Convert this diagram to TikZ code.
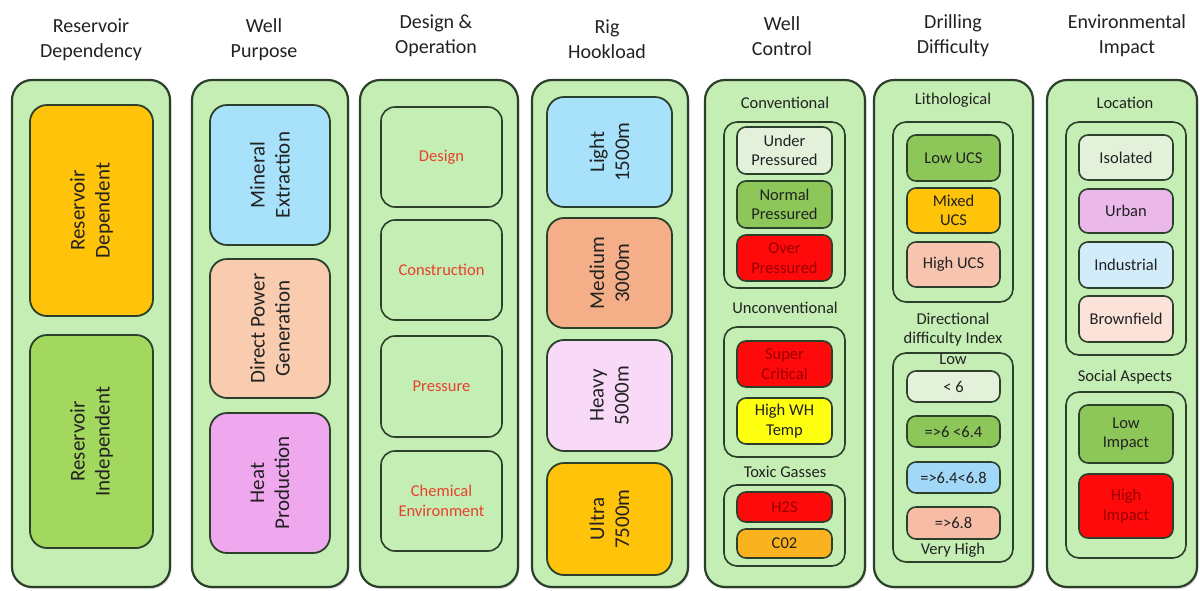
\documentclass[tikz,border=0pt]{standalone}
\usepackage{fontspec}
\setmainfont{Carlito}
\usetikzlibrary{shadows}
\definecolor{outg}{HTML}{C4EEB3}
\definecolor{bord}{HTML}{2B3F2B}
\definecolor{txt}{HTML}{222222}
\definecolor{redtxt}{HTML}{E8402E}
\definecolor{dred}{HTML}{9A0000}
\definecolor{gold}{HTML}{FFC30A}
\definecolor{grn}{HTML}{A2D85E}
\definecolor{midg}{HTML}{8DC75A}
\definecolor{paleg}{HTML}{E3F1DA}
\definecolor{ltblue}{HTML}{A8E2FA}
\definecolor{peach}{HTML}{F9CCAF}
\definecolor{violet}{HTML}{EFA8EE}
\definecolor{salmon}{HTML}{F5AF88}
\definecolor{ltpink}{HTML}{F9D9F8}
\definecolor{rd}{HTML}{FF0A0A}
\definecolor{yel}{HTML}{FFFF10}
\definecolor{orng}{HTML}{FAB31E}
\definecolor{hiucs}{HTML}{F7C4B0}
\definecolor{idxblue}{HTML}{A2D8F7}
\definecolor{idxsal}{HTML}{F7BCA6}
\definecolor{urban}{HTML}{EAB8E9}
\definecolor{indus}{HTML}{D2ECFA}
\definecolor{brown}{HTML}{FCE3DA}
\tikzset{
  outerbox/.style={draw=bord, line width=2.2pt, fill=outg, rounded corners=20pt,
    drop shadow={opacity=0.25, shadow xshift=1.5pt, shadow yshift=-2pt}},
  grpbox/.style={draw=bord, line width=1.6pt, rounded corners=13pt},
  itembox/.style={draw=bord, line width=1.6pt, rounded corners=9pt, text=txt,
    font=\fontsize{16.5}{19.5}\selectfont, align=center},
  bigbox/.style={draw=bord, line width=1.8pt, rounded corners=17pt, text=txt,
    font=\fontsize{21}{25}\selectfont, align=center, rotate=90},
  opbox/.style={draw=bord, line width=1.6pt, rounded corners=14pt, text=redtxt,
    font=\fontsize{16.5}{19.5}\selectfont, align=center},
  title/.style={text=txt, font=\fontsize{20}{25}\selectfont, align=center},
  lbl/.style={text=txt, font=\fontsize{16.5}{19.5}\selectfont, align=center},
}
% name, style, x1, y1, x2, y2, text
\newcommand\bx[7]{\node[#2, inner sep=0pt, minimum width={(#5-#3)*1pt}, minimum height={(#6-#4)*1pt}] (#1) at ({(#3+#5)/2},{(#4+#6)/2}) {#7};}
% rotated box: swap dimensions
\newcommand\rbx[7]{\node[#2, inner sep=0pt, minimum width={(#6-#4)*1pt}, minimum height={(#5-#3)*1pt}] (#1) at ({(#3+#5)/2},{(#4+#6)/2}) {#7};}
\begin{document}
\begin{tikzpicture}[x=1pt,y=-1pt]
\useasboundingbox (0,0) rectangle (1200,590);
\fill[white] (0,0) rectangle (1200,590);
% ---- outer columns
\bx{o1}{outerbox}{12}{80}{170}{587}{}
\bx{o2}{outerbox}{192}{80}{348}{587}{}
\bx{o3}{outerbox}{360}{80}{518}{587}{}
\bx{o4}{outerbox}{532}{80}{688}{587}{}
\bx{o5}{outerbox}{705}{80}{865}{587}{}
\bx{o6}{outerbox}{874}{80}{1033}{587}{}
\bx{o7}{outerbox}{1047}{80}{1197}{587}{}
% ---- titles
\node[title] (t1) at (91,39.5) {Reservoir\\Dependency};
\node[title] (t2) at (264,40) {Well\\Purpose};
\node[title] (t3) at (436,36) {Design \&\\Operation};
\node[title] (t4) at (607,39.5) {Rig\\Hookload};
\node[title] (t5) at (782,36) {Well\\Control};
\node[title] (t6) at (953,36) {Drilling\\Difficulty};
\node[title] (t7) at (1127,36) {Environmental\\Impact};
% ---- column 1
\rbx{rdep}{bigbox, fill=gold}{30}{105}{153}{316}{Reservoir\\Dependent}
\rbx{rind}{bigbox, fill=grn}{30}{335}{153}{548}{Reservoir\\Independent}
% ---- column 2
\rbx{mine}{bigbox, fill=ltblue}{210}{105}{330}{245}{Mineral\\Extraction}
\rbx{dpow}{bigbox, fill=peach}{210}{259}{330}{398}{Direct Power\\Generation}
\rbx{heat}{bigbox, fill=violet}{210}{413}{330}{553}{Heat\\Production}
% ---- column 3
\bx{des}{opbox}{381}{107}{502}{207}{Design}
\bx{con}{opbox}{381}{220}{502}{320}{Construction}
\bx{pre}{opbox}{381}{336}{502}{437}{Pressure}
\bx{che}{opbox}{381}{451}{502}{551}{Chemical\\Environment}
% ---- column 4
\rbx{lig}{bigbox, fill=ltblue}{547}{97}{672}{207}{Light\\1500m}
\rbx{med}{bigbox, fill=salmon}{547}{218}{672}{328}{Medium\\3000m}
\rbx{hea}{bigbox, fill=ltpink}{547}{340}{672}{451}{Heavy\\5000m}
\rbx{ult}{bigbox, fill=gold}{547}{463}{672}{575}{Ultra\\7500m}
% ---- column 5
\node[lbl] (lconv) at (785,103) {Conventional};
\bx{gconv}{grpbox}{724}{122}{845}{288}{}
\bx{under}{itembox, fill=paleg}{737}{127}{832}{174}{Under\\Pressured}
\bx{normal}{itembox, fill=midg}{737}{181}{832}{228}{Normal\\Pressured}
\bx{over}{itembox, fill=rd, text=dred}{737}{235}{832}{281}{Over\\Pressured}
\node[lbl] (lunc) at (785,308) {Unconventional};
\bx{gunc}{grpbox}{724}{327}{845}{457}{}
\bx{super}{itembox, fill=rd, text=dred}{737}{341}{832}{387}{Super\\Critical}
\bx{highwh}{itembox, fill=yel}{737}{398}{832}{444}{High WH\\Temp}
\node[lbl] (ltox) at (785,472) {Toxic Gasses};
\bx{gtox}{grpbox}{724}{485}{845}{566}{}
\bx{h2s}{itembox, fill=rd, text=dred}{737}{492}{832}{522}{H2S}
\bx{co2}{itembox, fill=orng}{737}{529}{832}{558}{C02}
% ---- column 6
\node[lbl] (llith) at (953,100) {Lithological};
\bx{glith}{grpbox}{893}{122}{1013}{302}{}
\bx{lowucs}{itembox, fill=midg}{907}{135}{1000}{181}{Low UCS}
\bx{mixucs}{itembox, fill=gold}{907}{188}{1000}{233}{Mixed\\UCS}
\bx{hiucs}{itembox, fill=hiucs}{907}{242}{1000}{287}{High UCS}
\node[lbl] (ldir) at (953,329.5) {Directional\\difficulty Index};
\bx{gdir}{grpbox}{893}{353}{1013}{562}{}
\node[lbl] (llow) at (953,359) {Low};
\bx{i1}{itembox, fill=paleg}{907}{371}{1000}{402}{< 6}
\bx{i2}{itembox, fill=midg}{907}{416}{1000}{447}{=>6 <6.4}
\bx{i3}{itembox, fill=idxblue}{907}{462}{1000}{493}{=>6.4<6.8}
\bx{i4}{itembox, fill=idxsal}{907}{507}{1000}{539}{=>6.8}
\node[lbl] (lvh) at (953,550) {Very High};
% ---- column 7
\node[lbl] (lloc) at (1125,103) {Location};
\bx{gloc}{grpbox}{1066}{122}{1186}{355}{}
\bx{iso}{itembox, fill=paleg}{1079}{135}{1173}{180}{Isolated}
\bx{urb}{itembox, fill=urban}{1079}{189}{1173}{233}{Urban}
\bx{ind}{itembox, fill=indus}{1079}{242}{1173}{288}{Industrial}
\bx{bro}{itembox, fill=brown}{1079}{296}{1173}{342}{Brownfield}
\node[lbl] (lsoc) at (1125,377) {Social Aspects};
\bx{gsoc}{grpbox}{1066}{392}{1186}{558}{}
\bx{lowimp}{itembox, fill=midg}{1079}{405}{1173}{463}{Low\\Impact}
\bx{hiimp}{itembox, fill=rd, text=dred}{1079}{474}{1173}{538}{High\\Impact}
\end{tikzpicture}
\end{document}
